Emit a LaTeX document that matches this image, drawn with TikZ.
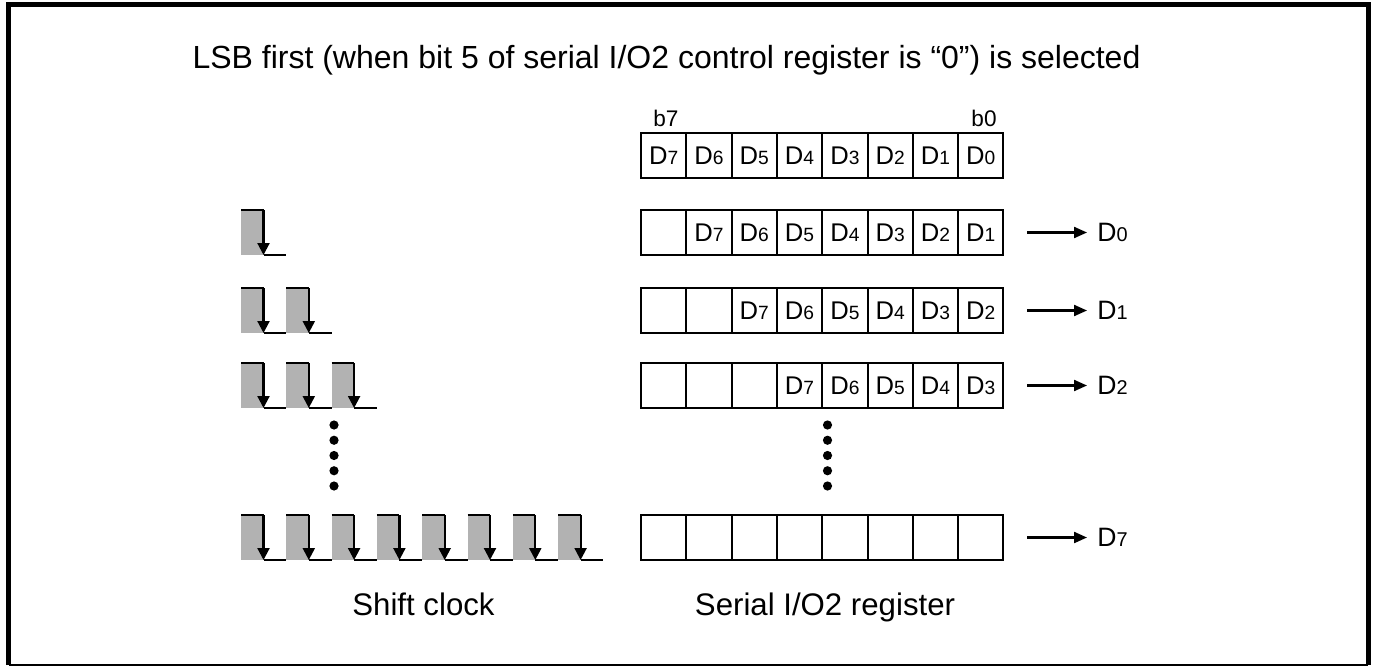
\documentclass[tikz,border=0pt]{standalone}
\usepackage{fontspec}
\setmainfont{Liberation Sans}
\usetikzlibrary{arrows.meta}

\tikzset{
  cell/.style={draw, line width=1pt, minimum width=22.65pt, minimum height=22.75pt,
    inner sep=0pt, font=\fontsize{12.8}{15}\selectfont},
  pulse/.style={fill=black!30},
  fall/.style={line width=1.1pt, -{Triangle[length=6pt,width=6pt]}},
  low/.style={line width=0.7pt},
  outarrow/.style={line width=1.1pt, -{Triangle[length=6.5pt,width=5.5pt]}},
  outlabel/.style={anchor=west, inner sep=5pt, font=\fontsize{13.3}{16}\selectfont},
  bitlabel/.style={inner sep=0pt, font=\fontsize{11.3}{13}\selectfont},
  dot/.style={circle, fill=black, inner sep=0pt, minimum size=4.6pt},
  caption/.style={anchor=base, font=\fontsize{15.6}{18}\selectfont}
}
\newcommand{\dbit}[1]{D\scalebox{0.75}{#1}}

\begin{document}
\begin{tikzpicture}[x=0.5pt,y=-0.5pt]
\useasboundingbox (0,0) rectangle (1374,668);
% frame
\draw [line width=2.5pt] (8.5,665) -- (8.5,4.5) -- (1368,4.5) -- (1368,665);
\draw [line width=0.6pt] (8.5,665) -- (1368,665);
\node [anchor=base, font=\fontsize{16}{19}\selectfont] (title) at (666.5,69)
  {LSB first (when bit 5 of serial I/O2 control register is “0”) is selected};

% register before shifting
\node [bitlabel, anchor=base west] (b7) at (653,127) {b7};
\node [bitlabel, anchor=base east] (b0) at (997,127) {b0};
\foreach \d [count=\i from 0] in {7,6,5,4,3,2,1,0}
  \node [cell] (r0c\i) at (663.65+45.3*\i,155.75) {\dbit{\d}};

% after 1 clock
\node [cell] (r1c0) at (663.65,232.5) {};
\foreach \d [count=\i from 1] in {7,6,5,4,3,2,1}
  \node [cell] (r1c\i) at (663.65+45.3*\i,232.5) {\dbit{\d}};
% after 2 clocks
\node [cell] (r2c0) at (663.65,310.5) {};
\node [cell] (r2c1) at (708.95,310.5) {};
\foreach \d [count=\i from 2] in {7,6,5,4,3,2}
  \node [cell] (r2c\i) at (663.65+45.3*\i,310.5) {\dbit{\d}};
% after 3 clocks
\foreach \i in {0,1,2}
  \node [cell] (r3c\i) at (663.65+45.3*\i,385.5) {};
\foreach \d [count=\i from 3] in {7,6,5,4,3}
  \node [cell] (r3c\i) at (663.65+45.3*\i,385.5) {\dbit{\d}};
% after 8 clocks
\foreach \i in {0,...,7}
  \node [cell] (r4c\i) at (663.65+45.3*\i,537.5) {};

% serial output
\coordinate (o1) at (1027,232.5);
\coordinate (o2) at (1027,310.5);
\coordinate (o3) at (1027,385.5);
\coordinate (o4) at (1027,537.5);
\node [outlabel] (d0) at (1087,232.5) {\dbit{0}};
\node [outlabel] (d1) at (1087,310.5) {\dbit{1}};
\node [outlabel] (d2) at (1087,385.5) {\dbit{2}};
\node [outlabel] (d7) at (1087,537.5) {\dbit{7}};
\draw [outarrow] (o1) -- (d0);
\draw [outarrow] (o2) -- (d1);
\draw [outarrow] (o3) -- (d2);
\draw [outarrow] (o4) -- (d7);

% shift clock
\foreach \n/\t in {1/210, 2/288, 3/363, 8/515} {
  \foreach \k in {1,...,\n} {
    \pgfmathsetmacro{\x}{241+45.3*(\k-1)}
    \fill [pulse] (\x,\t) rectangle (\x+22.5,\t+45);
    \draw [low] (\x,\t) -- (\x+22.5,\t);
    \draw [fall] (\x+22.5,\t) -- (\x+22.5,\t+45);
    \draw [low] (\x+22.5,\t+45) -- (\x+45.3,\t+45);
  }
}

% dots
\foreach \y [count=\j] in {425,440.25,455.5,470.75,486} {
  \node [dot] (ldot\j) at (334,\y) {};
  \node [dot] (rdot\j) at (827.5,\y) {};
}

\node [caption] (clk) at (423.5,615) {Shift clock};
\node [caption] (reg) at (825,615) {Serial I/O2 register};
\end{tikzpicture}
\end{document}
